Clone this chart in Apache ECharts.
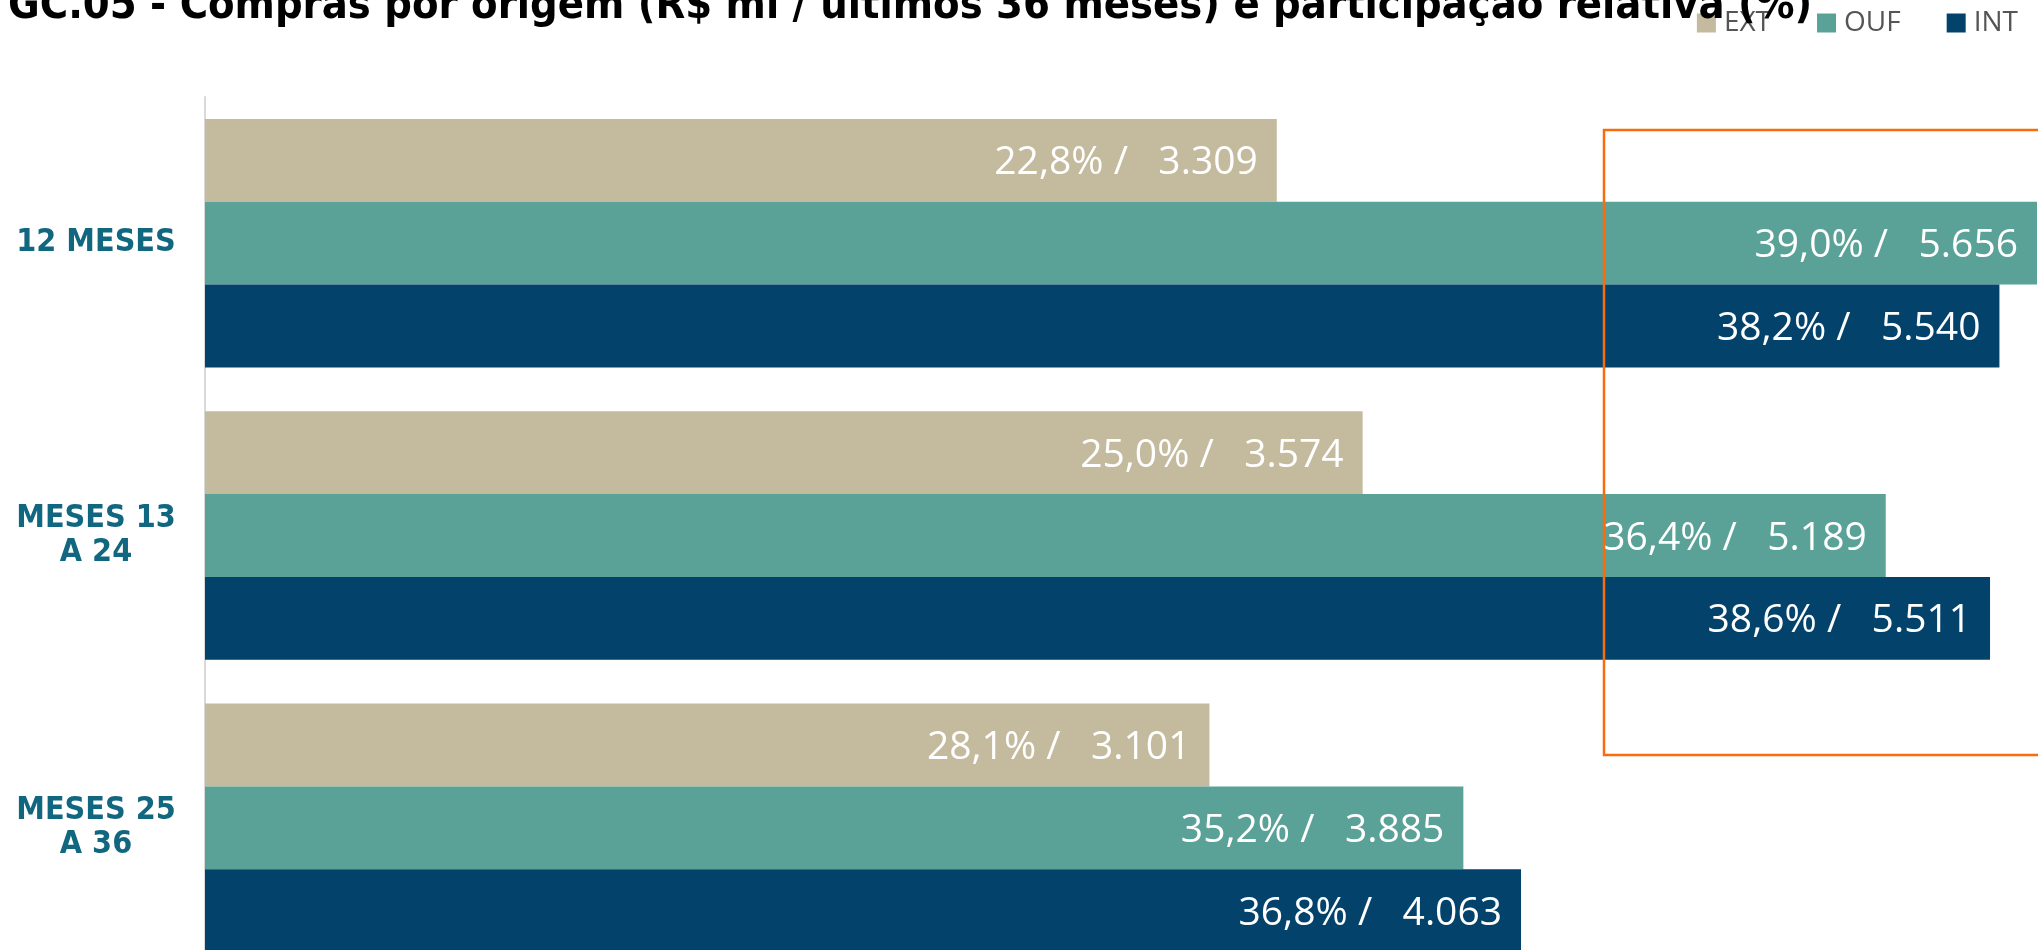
<!DOCTYPE html>
<html>
<head>
<meta charset="utf-8">
<title>GC.05 - Compras por origem</title>
<script src="https://cdn.jsdelivr.net/npm/echarts@6/dist/echarts.min.js"></script>
<style>
  html, body { margin: 0; padding: 0; background: #fff; }
  #compras_chart { width: 2038px; height: 950px; }
</style>
</head>
<body>
<div id="compras_chart"></div>
<script>
  // categorias (de cima para baixo)
  var periodos = ['12 MESES', 'MESES 13\nA 24', 'MESES 25\nA 36'];
  var origens = ['EXT', 'OUF', 'INT'];

  // compras em R$ mi
  var ext_valores = [3309, 3574, 3101];
  var ouf_valores = [5656, 5189, 3885];
  var int_valores = [5540, 5511, 4063];

  // participacao relativa (%)
  var ext_pct = [22.8, 25.0, 28.1];
  var ouf_pct = [39.0, 36.4, 35.2];
  var int_pct = [38.2, 38.6, 36.8];

  var cores = ['#C4BA9E', '#5AA298', '#03426B'];

  function fmtNum(v) {
    return String(v).replace(/\B(?=(\d{3})+(?!\d))/g, '.');
  }
  function fmtPct(p) {
    return p.toFixed(1).replace('.', ',') + '%';
  }

  function makeSerie(nome, valores, pcts, cor) {
    return {
      name: nome,
      type: 'bar',
      barGap: '0%',
      barCategoryGap: '15%',
      itemStyle: { color: cor },
      label: {
        show: true,
        position: 'insideRight',
        distance: 19,
        offset: [0, 3],
        color: '#ffffff',
        fontFamily: 'Open Sans',
        fontSize: 39,
        formatter: function (p) {
          return fmtPct(pcts[p.dataIndex]) + ' /   ' + fmtNum(p.value);
        }
      },
      data: valores
    };
  }

  var chart = echarts.init(document.getElementById('compras_chart'));
  chart.setOption({
    animation: false,
    title: {
      text: 'GC.05 - Compras por origem (R$ mi / últimos 36 meses) e participação relativa (%)',
      left: 8,
      top: -15,
      padding: 0,
      textStyle: {
        fontFamily: 'DejaVu Sans Condensed, DejaVu Sans, sans-serif',
        fontWeight: 'bold',
        fontSize: 43,
        color: '#000'
      }
    },
    legend: {
      data: origens,
      right: 15,
      top: 4,
      icon: 'rect',
      itemWidth: 19,
      itemHeight: 19,
      itemGap: 46,
      textStyle: {
        fontFamily: 'Open Sans',
        fontSize: 28,
        color: '#555555',
        padding: [0, 0, 0, 3]
      }
    },
    grid: {
      left: 205,
      right: 1,
      top: 97,
      height: 877,
      outerBoundsMode: 'none'
    },
    xAxis: {
      type: 'value',
      min: 0,
      max: 5656,
      show: false
    },
    yAxis: {
      type: 'category',
      inverse: true,
      data: periodos,
      axisLine: { lineStyle: { color: '#d9d9d9', width: 2 } },
      axisTick: { show: false },
      axisLabel: {
        align: 'center',
        margin: 109,
        fontFamily: 'DejaVu Sans Condensed, DejaVu Sans',
        fontWeight: 'bold',
        fontSize: 32,
        lineHeight: 34,
        color: '#11677F'
      }
    },
    // destaque laranja
    graphic: [{
      type: 'rect',
      z: 100,
      shape: { x: 1604, y: 130, width: 600, height: 625 },
      style: { fill: 'none', stroke: '#F86C0E', lineWidth: 2.5 }
    }],
    series: [
      makeSerie('EXT', ext_valores, ext_pct, cores[0]),
      makeSerie('OUF', ouf_valores, ouf_pct, cores[1]),
      makeSerie('INT', int_valores, int_pct, cores[2])
    ]
  });
</script>
</body>
</html>
